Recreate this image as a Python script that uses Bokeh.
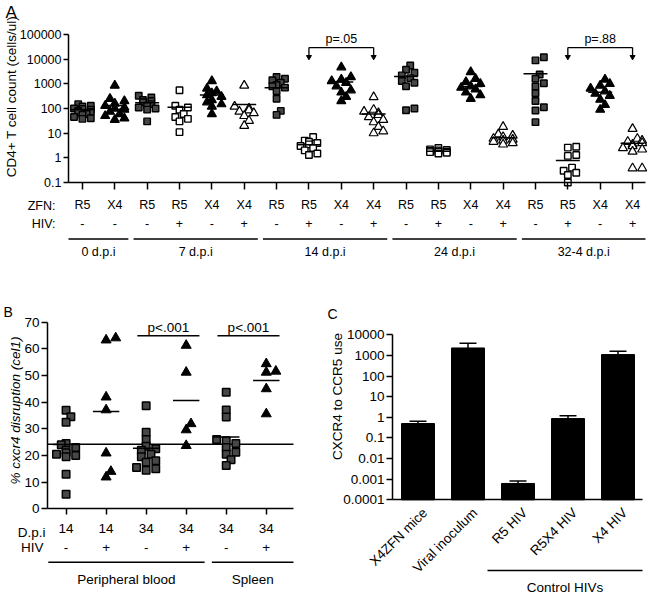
import math
from bokeh.plotting import figure
from bokeh.layouts import column, row
from bokeh.models import (Range1d, FixedTicker, ColumnDataSource, LinearAxis, LogAxis,
                          LinearScale)
from bokeh.core.properties import value
from bokeh.embed import file_html
from bokeh.resources import INLINE

FONT = "Liberation Sans"

# ===================== DATA =====================
# ---- Panel A: CD4+ T cell count (cells/ul) ----
a_zfn = ["R5", "X4", "R5", "R5", "X4", "X4", "R5", "R5", "X4", "X4",
         "R5", "R5", "X4", "X4", "R5", "R5", "X4", "X4"]
a_hiv = ["-", "-", "-", "+", "-", "+", "-", "+", "-", "+",
         "-", "+", "-", "+", "-", "+", "-", "+"]
a_groups = ["0 d.p.i", "7 d.p.i", "14 d.p.i", "24 d.p.i", "32-4 d.p.i"]
a_group_first = [0, 2, 6, 10, 14]
a_group_last = [1, 5, 9, 13, 17]
a_yticks = [0.1, 1, 10, 100, 1000, 10000, 100000]
a_ytick_labels = ["0.1", "1", "10", "100", "1000", "10000", "100000"]

d0_r5_neg = [150, 130, 120, 100, 95, 90, 80, 75, 70, 60, 55, 45, 40, 38]
d0_x4_neg = [850, 250, 200, 160, 130, 110, 100, 90, 75, 60, 50, 40, 35]
d7_r5_neg = [330, 280, 220, 200, 180, 150, 130, 110, 100, 90, 30]
d7_r5_pos = [550, 130, 110, 90, 60, 45, 38, 30, 11]
d7_x4_neg = [1300, 650, 500, 420, 350, 300, 220, 180, 150, 120, 60]
d7_x4_pos = [850, 120, 100, 85, 75, 65, 50, 32, 20]
d14_r5_neg = [1900, 1600, 1400, 1100, 900, 800, 700, 500, 250, 80, 55]
d14_r5_pos = [7, 5, 4.5, 4, 3.5, 3, 2.5, 2, 1.5, 1.3]
d14_x4_neg = [4700, 1900, 1500, 1300, 1100, 800, 550, 450, 300, 200]
d14_x4_pos = [290, 90, 75, 65, 55, 45, 35, 28, 18, 12, 10]
d24_r5_neg = [5500, 3700, 2800, 2200, 1700, 1300, 1100, 800, 100, 85]
d24_r5_pos = [2.5, 2.2, 2.1, 2.0, 1.9, 1.8, 1.8, 1.7, 1.6, 1.5]
d24_x4_neg = [3000, 1600, 1200, 1000, 800, 700, 600, 450, 350, 250]
d24_x4_pos = [18, 9, 8, 7, 6, 5.5, 5, 4.5, 4, 3.5]
d32_r5_neg = [12000, 8900, 2400, 1600, 1050, 780, 415, 200, 113, 83, 28]
d32_r5_pos = [2.8, 2.6, 1.3, 1.2, 0.4, 0.3, 0.25, 0.2, 0.1]
d32_x4_neg = [1500, 1000, 850, 650, 500, 400, 330, 230, 140, 90]
d32_x4_pos = [15, 6, 5, 4.5, 4, 3.5, 3, 2.5, 2.2, 1.8, 0.38, 0.38]
a_series = [d0_r5_neg, d0_x4_neg, d7_r5_neg, d7_r5_pos, d7_x4_neg, d7_x4_pos,
            d14_r5_neg, d14_r5_pos, d14_x4_neg, d14_x4_pos,
            d24_r5_neg, d24_r5_pos, d24_x4_neg, d24_x4_pos,
            d32_r5_neg, d32_r5_pos, d32_x4_neg, d32_x4_pos]
a_means = [89, 132, 170, 112, 355, 145, 690, 3.4, 1180, 60,
           2000, 1.86, 780, 6.5, 2560, 0.78, 460, 3.9]
a_pvals = ["p=.05", "p=.88"]
a_p_left = [7, 15]
a_p_right = [9, 17]

# ---- Panel B: % cxcr4 disruption ----
b_dpi = ["14", "14", "34", "34", "34", "34"]
b_hiv = ["-", "+", "-", "+", "-", "+"]
b_groups = ["Peripheral blood", "Spleen"]
b_group_first = [0, 4]
b_group_last = [3, 5]
b_yticks = [0, 10, 20, 30, 40, 50, 60, 70]
pb14_neg = [37, 34.5, 32.5, 24.5, 24, 23, 22, 21, 20.5, 20, 19.5, 13, 5.5]
pb14_pos = [64.1, 63.3, 41.9, 37.1, 20.9, 14, 11.9]
pb34_neg = [38.7, 28.7, 26, 23.5, 22.5, 22, 20.5, 19.5, 18, 17.5, 15.5, 15, 14.5]
pb34_pos = [61.3, 51.2, 31.9, 29.6, 23.7]
sp34_neg = [43.7, 37.1, 34.4, 26, 25.5, 24.5, 23, 21.2, 20.5, 18.4, 16.2]
sp34_pos = [54.4, 51.6, 51.2, 45, 35.6]
b_series = [pb14_neg, pb14_pos, pb34_neg, pb34_pos, sp34_neg, sp34_pos]
b_means = [24.1, 36.5, 22.7, 40.6, 26.9, 48.1]
b_baseline = 24.2
b_pvals = ["p<.001", "p<.001"]
b_p_left = [2, 4]
b_p_right = [3, 5]

# ---- Panel C: CXCR4 to CCR5 use ----
c_cats = ["X4ZFN mice", "Viral inoculum", "R5 HIV", "R5X4 HIV", "X4 HIV"]
c_vals = [0.5, 2300, 0.00062, 0.87, 1100]
c_err_top = [0.64, 3900, 0.00082, 1.2, 1600]
c_yticks = [0.0001, 0.001, 0.01, 0.1, 1, 10, 100, 1000, 10000]
c_ytick_labels = ["0.0001", "0.001", "0.01", "0.1", "1", "10", "100", "1000", "10000"]
c_group = "Control HIVs"
c_group_first = 2
c_group_last = 4

# ===================== LAYOUT (pixels) =====================
GRAY = "#474747"


class Panel:
    """A figure whose frame is the whole canvas; axes sit at fixed data locations."""

    def __init__(self, w, h, box, xb, yb, ylog):
        L, R, T, B = box
        self.w, self.h = w, h
        self.ppu = (R - L) / (xb[1] - xb[0])
        self.x0 = xb[0] - L / self.ppu
        xr = Range1d(self.x0, xb[1] + (w - R) / self.ppu)
        if ylog:
            l0, l1 = math.log10(yb[0]), math.log10(yb[1])
            self.ppy = (B - T) / (l1 - l0)
            yr = Range1d(10 ** (l0 - (h - B) / self.ppy), 10 ** (l1 + T / self.ppy))
        else:
            self.ppy = (B - T) / (yb[1] - yb[0])
            yr = Range1d(yb[0] - (h - B) / self.ppy, yb[1] + T / self.ppy)
        p = figure(width=w, height=h, x_range=xr, y_range=yr,
                   y_axis_type="log" if ylog else "linear",
                   x_axis_location=None, y_axis_location=None, min_border=0,
                   output_backend="svg", toolbar_location=None)
        p.extra_y_ranges = {"px": Range1d(0, h)}
        p.extra_y_scales = {"px": LinearScale()}
        p.grid.visible = False
        p.outline_line_color = None
        p.background_fill_color = "white"
        p.border_fill_color = "white"
        p.title.visible = False
        self.p = p
        self.yax = (LogAxis if ylog else LinearAxis)(fixed_location=xb[0], bounds=yb)
        self.xax = LinearAxis(fixed_location=yb[0], bounds=xb)
        for ax in (self.yax, self.xax):
            ax.axis_line_width = 1.5
            ax.major_tick_line_width = 1.5
            ax.major_tick_in = 0
            ax.minor_tick_out = 0
            ax.minor_tick_in = 0
            ax.major_label_text_font = FONT
            ax.major_label_text_color = "black"
        p.add_layout(self.yax, "left")
        p.add_layout(self.xax, "below")

    def px2x(self, px):
        return self.x0 + px / self.ppu

    def ptext(self, pxs, tops, texts, size, align="center", angle=0.0, style="normal"):
        """text at pixel positions (x from left, y from top of this panel)"""
        self.text([self.px2x(v) for v in pxs], tops, texts, size, align, angle, style)

    def text(self, xs, tops, texts, size, align="center", angle=0.0, style="normal"):
        """text at data x, pixel y from top"""
        self.p.text(x=xs, y=[self.h - t for t in tops], text=texts, y_range_name="px",
                    text_align=align, text_baseline="middle", angle=angle,
                    text_font=value(FONT), text_font_size=value(size),
                    text_font_style=style, text_color="black")

    def hline(self, x0, x1, top):
        self.p.segment(x0=x0, x1=x1, y0=[self.h - top] * len(x0), y1=[self.h - top] * len(x0),
                       y_range_name="px", line_color="black", line_width=1.5)


def swarm(ypx, diam, ppu, max_half):
    n = len(ypx)
    order = sorted(range(n), key=lambda i: ypx[i])
    step = diam * 0.6
    kmax = max(1, int(max_half * ppu / step))
    cands = [0.0]
    for k in range(1, kmax + 1):
        cands += [k * step, -k * step]
    placed, res = [], [0.0] * n
    lim = (0.8 * diam) ** 2
    for i in order:
        y = ypx[i]
        chosen = None
        for c in cands:
            if all((c - px) ** 2 + (y - py) ** 2 >= lim for px, py in placed):
                chosen = c
                break
        if chosen is None:
            chosen = min(cands, key=lambda c: sum(
                1 for px, py in placed if (c - px) ** 2 + (y - py) ** 2 < lim))
        placed.append((chosen, y))
        res[i] = chosen / ppu
    return res


HALF_PI = math.pi / 2

# ===================== PANEL A =====================
A_XB = (-0.43, 17.40)
A = Panel(649, 264, (68, 645, 34, 182), A_XB, (0.1, 100000), True)
pa = A.p
A.yax.ticker = FixedTicker(ticks=a_yticks, minor_ticks=[])
A.yax.major_label_overrides = {t: l for t, l in zip(a_yticks, a_ytick_labels)}
A.yax.major_label_text_font_size = "12.5px"
A.yax.major_tick_out = 5
A.yax.major_label_standoff = 2
na = len(a_series)
A.xax.ticker = FixedTicker(ticks=list(range(na)), minor_ticks=[])
A.xax.major_label_overrides = {i: a_zfn[i] for i in range(na)}
A.xax.major_label_text_font_size = "12.5px"
A.xax.major_tick_out = 7
A.xax.major_label_standoff = 8

A.ptext([5], [12], ["A"], "17px", align="left")
A.ptext([11], [96], ["CD4+ T cell count (cells/ul)"], "13.5px", angle=HALF_PI)
A.ptext([55, 55], [205, 223], ["ZFN:", "HIV:"], "12.5px", align="right")
A.text(list(range(na)), [223] * na, a_hiv, "12.5px")
gx0 = [f - 0.42 for f in a_group_first]
gx1 = [l + 0.42 for l in a_group_last]
gx0[0] = A_XB[0]
gx1[-1] = A_XB[1]
A.hline(gx0, gx1, 238.5)
A.text([(a + b) / 2 for a, b in zip(gx0, gx1)], [251.5] * len(gx0), a_groups, "12.5px")

styles = {}
for i, vals in enumerate(a_series):
    ypx = [math.log10(v) * A.ppy for v in vals]
    diam = 7 if a_zfn[i] == "R5" else 8
    offs = swarm(ypx, diam, A.ppu, 0.38)
    key = (a_zfn[i], a_hiv[i])
    d = styles.setdefault(key, {"x": [], "y": []})
    d["x"] += [i + o for o in offs]
    d["y"] += list(vals)

for (z, h), d in styles.items():
    src = ColumnDataSource(d)
    if z == "R5":
        fill = GRAY if h == "-" else "white"
        pa.scatter("x", "y", source=src, marker="square", size=6.5,
                   fill_color=fill, line_color="black", line_width=1.4)
    else:
        fill = "black" if h == "-" else "white"
        pa.scatter("x", "y", source=src, marker="triangle", size=9,
                   fill_color=fill, line_color="black", line_width=1.2)

pa.segment(x0=[i - 0.37 for i in range(na)], x1=[i + 0.37 for i in range(na)],
           y0=a_means, y1=a_means, line_color="black", line_width=1.5)

br_y = 10 ** 4.47
tip_y = 10 ** 4.14
for t, l, r in zip(a_pvals, a_p_left, a_p_right):
    pa.segment(x0=[l, l, r], x1=[r, l, r], y0=[br_y, br_y, br_y], y1=[br_y, tip_y, tip_y],
               line_color="black", line_width=1.3)
    pa.scatter(x=[l, r], y=[10 ** 4.09, 10 ** 4.09], marker="inverted_triangle", size=5,
               fill_color="black", line_color="black")
    pa.text(x=[(l + r) / 2], y=[10 ** 4.83], text=[t], text_align="center",
            text_baseline="middle", text_font=value(FONT), text_font_size=value("12.5px"),
            text_color="black")

# ===================== PANEL B =====================
B_XB = (-0.464, 5.68)
Bp = Panel(320, 331, (47, 293, 57.7, 244.3), B_XB, (0, 70), False)
pb = Bp.p
Bp.yax.ticker = FixedTicker(ticks=b_yticks, minor_ticks=[])
Bp.yax.major_label_text_font_size = "13.5px"
Bp.yax.major_tick_out = 6
Bp.yax.major_label_standoff = 2
nb = len(b_series)
Bp.xax.ticker = FixedTicker(ticks=list(range(nb)), minor_ticks=[])
Bp.xax.major_label_overrides = {i: b_dpi[i] for i in range(nb)}
Bp.xax.major_label_text_font_size = "13.5px"
Bp.xax.major_tick_out = 6
Bp.xax.major_label_standoff = 9

Bp.ptext([3], [47], ["B"], "14px", align="left")
Bp.ptext([15], [146], ["% cxcr4 disruption (cel1)"], "13.5px", angle=HALF_PI, style="italic")
Bp.ptext([45, 43], [267.7, 283], ["D.p.i", "HIV"], "13.5px", align="right")
Bp.text(list(range(nb)), [283] * nb, b_hiv, "13.5px")
bx0 = [f - 0.36 for f in b_group_first]
bx1 = [l + 0.46 for l in b_group_last]
bx0[0] = B_XB[0] + 0.02
bx1[-1] = B_XB[1]
Bp.hline(bx0, bx1, 297.7)
Bp.text([(a + b) / 2 for a, b in zip(bx0, bx1)], [315] * 2, b_groups, "13.5px")

pb.segment(x0=[B_XB[0]], x1=[B_XB[1]], y0=[b_baseline], y1=[b_baseline],
           line_color="black", line_width=1.5)
sq = {"x": [], "y": []}
tr = {"x": [], "y": []}
for i, vals in enumerate(b_series):
    ypx = [v * Bp.ppy for v in vals]
    offs = swarm(ypx, 8, Bp.ppu, 0.35)
    d = sq if b_hiv[i] == "-" else tr
    d["x"] += [i + o for o in offs]
    d["y"] += list(vals)
pb.scatter("x", "y", source=ColumnDataSource(sq), marker="square", size=7.5,
           fill_color=GRAY, line_color="black", line_width=1.5)
pb.scatter("x", "y", source=ColumnDataSource(tr), marker="triangle", size=10,
           fill_color="black", line_color="black", line_width=1)
pb.segment(x0=[i - 0.33 for i in range(nb)], x1=[i + 0.33 for i in range(nb)],
           y0=b_means, y1=b_means, line_color="black", line_width=1.5)
for t, l, r in zip(b_pvals, b_p_left, b_p_right):
    x0, x1 = l - 0.22, r + 0.33
    pb.segment(x0=[x0], x1=[x1], y0=[64.9], y1=[64.9], line_color="black", line_width=1.5)
    pb.text(x=[(x0 + x1) / 2], y=[68.1], text=[t], text_align="center",
            text_baseline="middle", text_font=value(FONT), text_font_size=value("13.5px"),
            text_color="black")

# ===================== PANEL C =====================
C_XB = (-0.51, 4.49)
Cp = Panel(329, 331, (72, 322, 70.3, 235.3), C_XB, (0.0001, 10000), True)
pc = Cp.p
Cp.yax.ticker = FixedTicker(ticks=c_yticks, minor_ticks=[])
Cp.yax.major_label_overrides = {t: l for t, l in zip(c_yticks, c_ytick_labels)}
Cp.yax.major_label_text_font_size = "13.5px"
Cp.yax.major_tick_out = 6
Cp.yax.major_label_standoff = 2
Cp.xax.ticker = FixedTicker(ticks=[], minor_ticks=[])
Cp.xax.major_tick_out = 0

Cp.ptext([7], [49], ["C"], "14px", align="left")
Cp.ptext([16.5], [132], ["CXCR4 to CCR5 use"], "13.5px", angle=HALF_PI)
cx = list(range(len(c_cats)))
pc.vbar(x=cx, top=c_vals, bottom=0.0001, width=0.66, fill_color="black",
        line_color="black", line_width=1)
pc.segment(x0=cx, x1=cx, y0=c_vals, y1=c_err_top, line_color="black", line_width=1.5)
pc.segment(x0=[x - 0.17 for x in cx], x1=[x + 0.17 for x in cx], y0=c_err_top, y1=c_err_top,
           line_color="black", line_width=1.5)
Cp.text([x + 0.14 for x in cx], [246] * len(cx), c_cats, "13.5px",
        align="right", angle=math.pi / 4)
cg0 = c_group_first - 0.61
Cp.hline([cg0], [C_XB[1]], 306)
Cp.text([(cg0 + C_XB[1]) / 2], [322.7], [c_group], "13.5px")

layout = column(pa, row(pb, pc))
open("out.html", "w").write(file_html(layout, INLINE))
